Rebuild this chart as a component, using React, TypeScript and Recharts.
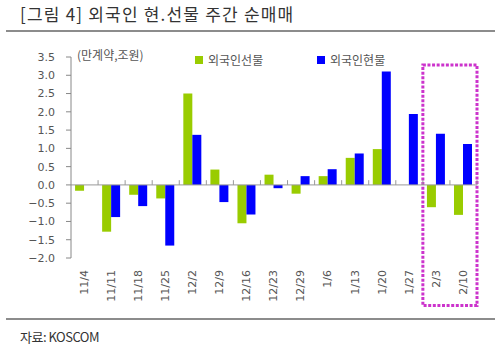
import React from 'react';
import { BarChart, Bar, XAxis, YAxis, ReferenceLine, ReferenceArea } from 'recharts';

const title = '[그림 4] 외국인 현.선물 주간 순매매';
const source = '자료: KOSCOM';
const unitLabel = '(만계약,조원)';
const seriesNames = ['외국인선물', '외국인현물'];
const seriesColors = ['#99CC00', '#0000FF'];

const categories = ['11/4', '11/11', '11/18', '11/25', '12/2', '12/9', '12/16', '12/23', '12/29', '1/6', '1/13', '1/20', '1/27', '2/3', '2/10'];
const foreignFutures = [-0.16, -1.28, -0.27, -0.37, 2.5, 0.42, -1.05, 0.28, -0.24, 0.24, 0.74, 0.98, 0, -0.61, -0.82];
const foreignSpot = [0, -0.88, -0.58, -1.66, 1.37, -0.47, -0.81, -0.09, 0.24, 0.43, 0.86, 3.1, 1.94, 1.4, 1.12];
const yTicks = [-2, -1.5, -1, -0.5, 0, 0.5, 1, 1.5, 2, 2.5, 3, 3.5];
const highlightRange = ['2/3', '2/10'];
const highlightValues = [-3.3, 3.28];

const data = categories.map((c, i) => ({ cat: c, fut: foreignFutures[i], spot: foreignSpot[i] }));

const fmtY = (v: number) => (v < 0 ? '\u2212' : '') + Math.abs(v).toFixed(1);

const XTick = (props: any) => {
  const { x, y, payload } = props;
  return (
    <g transform={`translate(${x},${y})`}>
      <text textAnchor="end" transform="rotate(-90)" dy="0.3em" fontSize={11} fill="#555" fontFamily="DejaVu Sans">
        {payload.value}
      </text>
    </g>
  );
};

const kr = '"Noto Sans CJK KR", sans-serif';

export default function App() {
  return (
    <div style={{ position: 'absolute', left: 0, top: 0, width: 500, height: 346, background: '#fff', overflow: 'hidden' }}>
      <div style={{ position: 'absolute', left: 20, top: 2, fontFamily: kr, fontSize: 17, color: '#333', whiteSpace: 'nowrap', lineHeight: '24px', letterSpacing: 1.2 }}>
        {title}
      </div>
      <div style={{ position: 'absolute', left: 6, top: 30, width: 489, height: 2, background: '#8c8c8c' }} />
      <BarChart width={500} height={346} data={data} margin={{ top: 57, right: 23, bottom: 38, left: 31 }} barCategoryGap="15%" barGap={0}>
        <YAxis
          domain={[-2, 3.5]}
          ticks={yTicks}
          interval={0}
          width={40}
          tickFormatter={fmtY}
          tick={{ fontSize: 11, fill: '#555', fontFamily: 'DejaVu Sans' }}
          tickSize={5}
          tickMargin={11}
          axisLine={{ stroke: '#888' }}
          tickLine={{ stroke: '#888' }}
        />
        <XAxis dataKey="cat" height={50} axisLine={false} tickLine={false} tickSize={6} tickMargin={6} interval={0} tick={<XTick />} />
        <ReferenceLine y={0} stroke="#999" ifOverflow="visible" />
        {categories.slice(1).map((c) => (
          <ReferenceLine key={c} segment={[{ x: c, y: 0 }, { x: c, y: 0.13 }]} position="start" stroke="#999" ifOverflow="visible" />
        ))}
        <ReferenceLine segment={[{ x: categories[categories.length - 1], y: 0 }, { x: categories[categories.length - 1], y: 0.13 }]} position="end" stroke="#999" ifOverflow="visible" />
        <Bar dataKey="fut" name={seriesNames[0]} fill={seriesColors[0]} isAnimationActive={false} />
        <Bar dataKey="spot" name={seriesNames[1]} fill={seriesColors[1]} isAnimationActive={false} />
        <ReferenceArea
          x1={highlightRange[0]}
          x2={highlightRange[1]}
          y1={highlightValues[0]}
          y2={highlightValues[1]}
          ifOverflow="visible"
          fill="none"
          fillOpacity={0}
          stroke="#CC33CC"
          strokeWidth={3}
          strokeDasharray="3 1.6"
        />
      </BarChart>
      <div style={{ position: 'absolute', left: 77, top: 47, fontFamily: kr, fontSize: 12, color: '#555', whiteSpace: 'nowrap', lineHeight: '16px' }}>
        {unitLabel}
      </div>
      {seriesNames.map((n, i) => (
        <div key={n} style={{ position: 'absolute', left: i === 0 ? 195 : 317, top: 52, display: 'flex', alignItems: 'center', fontFamily: kr, fontSize: 12, color: '#555', whiteSpace: 'nowrap', lineHeight: '16px' }}>
          <span style={{ display: 'inline-block', width: 8, height: 8, background: seriesColors[i], marginRight: 5 }} />
          {n}
        </div>
      ))}
      <div style={{ position: 'absolute', left: 6, top: 318, width: 489, height: 2, background: '#8c8c8c' }} />
      <div style={{ position: 'absolute', left: 20, top: 328, fontFamily: kr, fontSize: 13, color: '#333', whiteSpace: 'nowrap', lineHeight: '17px', letterSpacing: -0.5 }}>
        {source}
      </div>
    </div>
  );
}
